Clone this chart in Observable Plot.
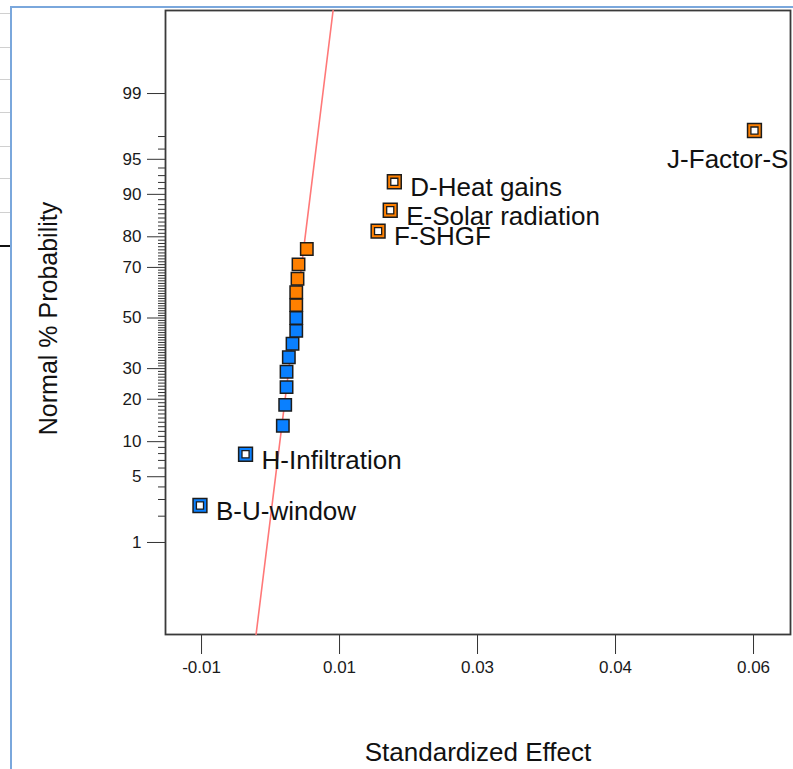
<!DOCTYPE html>
<html><head><meta charset="utf-8">
<script src="https://cdn.jsdelivr.net/npm/d3@7"></script>
<script src="https://cdn.jsdelivr.net/npm/@observablehq/plot@0.6"></script>
<style>
html,body{margin:0;padding:0;background:#fff;}
#wrap{position:relative;width:793px;height:769px;overflow:hidden;}
#chart svg{display:block;}
.bord{position:absolute;background:#7aa7dc;}
.grid{position:absolute;left:0;width:10px;height:1px;background:#d0d0d0;}
</style></head><body>
<div id="wrap"><div id="chart"></div>
<div class="bord" style="left:10px;top:6px;width:2px;height:763px"></div>
<div class="bord" style="left:10px;top:6px;width:783px;height:2px"></div>
<div class="grid" style="top:13px"></div>
<div class="grid" style="top:47px"></div>
<div class="grid" style="top:79px"></div>
<div class="grid" style="top:112px"></div>
<div class="grid" style="top:146px"></div>
<div class="grid" style="top:178px"></div>
<div class="grid" style="top:212px"></div>
<div class="grid" style="top:245px;background:#111;height:2px"></div>
</div>
<script>
// ---- data ----
const effectNames = ["B-U-window","H-Infiltration","","","","","","","","","","","","","","F-SHGF","E-Solar radiation","D-Heat gains","J-Factor-S"];
const effectValues = [-0.0102,-0.00442,0.00031,0.00061,0.00078,0.00078,0.00107,0.00154,0.00201,0.00201,0.00201,0.00201,0.00217,0.0023,0.00335,0.01239,0.01393,0.01445,0.06012];
const effectSign = ["-","-","-","-","-","-","-","-","-","-","+","+","+","+","+","+","+","+","+"];
const probabilityPct = [2.6,7.9,13.2,18.4,23.7,28.9,34.2,39.5,44.7,50,55.3,60.5,65.8,71.1,76.3,81.6,86.8,92.1,97.4];
const yMajorTicks = [1,5,10,20,30,50,70,80,90,95,99];
const yMajorLabels = ["1","5","10","20","30","50","70","80","90","95","99"];
const yMinorTicks = d3.range(2,98).filter(p => !yMajorTicks.includes(p));
const xTicks = [-0.01,0.0075,0.025,0.0425,0.06];
const xTickLabels = ["-0.01","0.01","0.03","0.04","0.06"];
const lineIntercept = 0.00187;   // effect at 50%
const lineSlope = 0.00151;       // effect per normal score
const xDomain = [-0.01457,0.06469];
const zDomain = [-3.28,3.187];

// inverse normal CDF (Acklam)
function probit(p){
 const a=[-3.969683028665376e+01,2.209460984245205e+02,-2.759285104469687e+02,1.383577518672690e+02,-3.066479806614716e+01,2.506628277459239e+00];
 const b=[-5.447609879822406e+01,1.615858368580409e+02,-1.556989798598866e+02,6.680131188771972e+01,-1.328068155288572e+01];
 const c=[-7.784894002430293e-03,-3.223964580411365e-01,-2.400758277161838e+00,-2.549732539343734e+00,4.374664141464968e+00,2.938163982698783e+00];
 const d=[7.784695709041462e-03,3.224671290700398e-01,2.445134137142996e+00,3.754408661907416e+00];
 const pl=0.02425, ph=1-pl; let q,r;
 if(p<pl){q=Math.sqrt(-2*Math.log(p));return (((((c[0]*q+c[1])*q+c[2])*q+c[3])*q+c[4])*q+c[5])/((((d[0]*q+d[1])*q+d[2])*q+d[3])*q+1);}
 if(p<=ph){q=p-0.5;r=q*q;return (((((a[0]*r+a[1])*r+a[2])*r+a[3])*r+a[4])*r+a[5])*q/(((((b[0]*r+b[1])*r+b[2])*r+b[3])*r+b[4])*r+1);}
 q=Math.sqrt(-2*Math.log(1-p));return -(((((c[0]*q+c[1])*q+c[2])*q+c[3])*q+c[4])*q+c[5])/((((d[0]*q+d[1])*q+d[2])*q+d[3])*q+1);
}

const rows = effectValues.map((v,i)=>({effect:v, z:probit(probabilityPct[i]/100), name:effectNames[i], sign:effectSign[i]}));
const plain = rows.filter(d=>!d.name);
const labeled = rows.filter(d=>d.name);
const rightLabels = labeled.filter(d=>d.name!=="J-Factor-S");
const jLabel = labeled.filter(d=>d.name==="J-Factor-S");
const linePts = zDomain.map(z=>({z, effect: lineIntercept + lineSlope*z}));
const yMajorZ = yMajorTicks.map(p=>probit(p/100));
const yLabelMap = new Map(yMajorZ.map((z,i)=>[z,yMajorLabels[i]]));
const xLabelMap = new Map(xTicks.map((x,i)=>[x,xTickLabels[i]]));

const FONT = "'Liberation Sans', Arial, sans-serif";
const DARK = "#1c1c1c";
const chart = Plot.plot({
 width:793, height:769, marginLeft:165, marginRight:3, marginTop:10, marginBottom:135,
 style:{fontFamily:FONT, background:"white", overflow:"visible", color:"#1a1a1a"},
 x:{domain:xDomain},
 y:{domain:zDomain},
 color:{domain:["-","+"], range:["#0a80ff","#ff8000"]},
 marks:[
  Plot.axisY(yMinorTicks.map(p=>probit(p/100)), {tickSize:7, tickFormat:()=>"", stroke:"#333", label:null}),
  Plot.axisY(yMajorZ, {tickSize:18, tickPadding:6, tickFormat:z=>yLabelMap.get(z), fontSize:17, stroke:"#333", label:null}),
  Plot.axisX(xTicks, {tickSize:20, tickPadding:6, tickFormat:x=>xLabelMap.get(x), fontSize:17, stroke:"#333", label:null}),
  Plot.frame({stroke:"#3a3a3a", strokeWidth:1.8}),
  Plot.line(linePts, {x:"effect", y:"z", stroke:"#ff7878", strokeWidth:1.6}),
  Plot.dot(plain, {x:"effect", y:"z", symbol:"square", r:7, fill:"sign", stroke:DARK, strokeWidth:1.5}),
  Plot.dot(labeled, {x:"effect", y:"z", symbol:"square", r:7.8, fill:"sign", stroke:DARK, strokeWidth:1.5}),
  Plot.dot(labeled, {x:"effect", y:"z", symbol:"square", r:4, fill:"white", stroke:DARK, strokeWidth:1.3}),
  Plot.text(rightLabels, {x:"effect", y:"z", text:"name", dx:16, dy:6, textAnchor:"start", fontSize:26, fill:"#111"}),
  Plot.text(jLabel, {x:"effect", y:"z", text:"name", dx:34, dy:29, textAnchor:"end", fontSize:26, fill:"#111"}),
  Plot.text(["Standardized Effect"], {frameAnchor:"bottom", dy:126, fontSize:26, fill:"#111"}),
  Plot.text(["Normal % Probability"], {frameAnchor:"left", dx:-117, dy:-4, rotate:-90, textAnchor:"middle", fontSize:25, fill:"#111"})
 ]
});
document.getElementById("chart").appendChild(chart);
</script>
</body></html>
